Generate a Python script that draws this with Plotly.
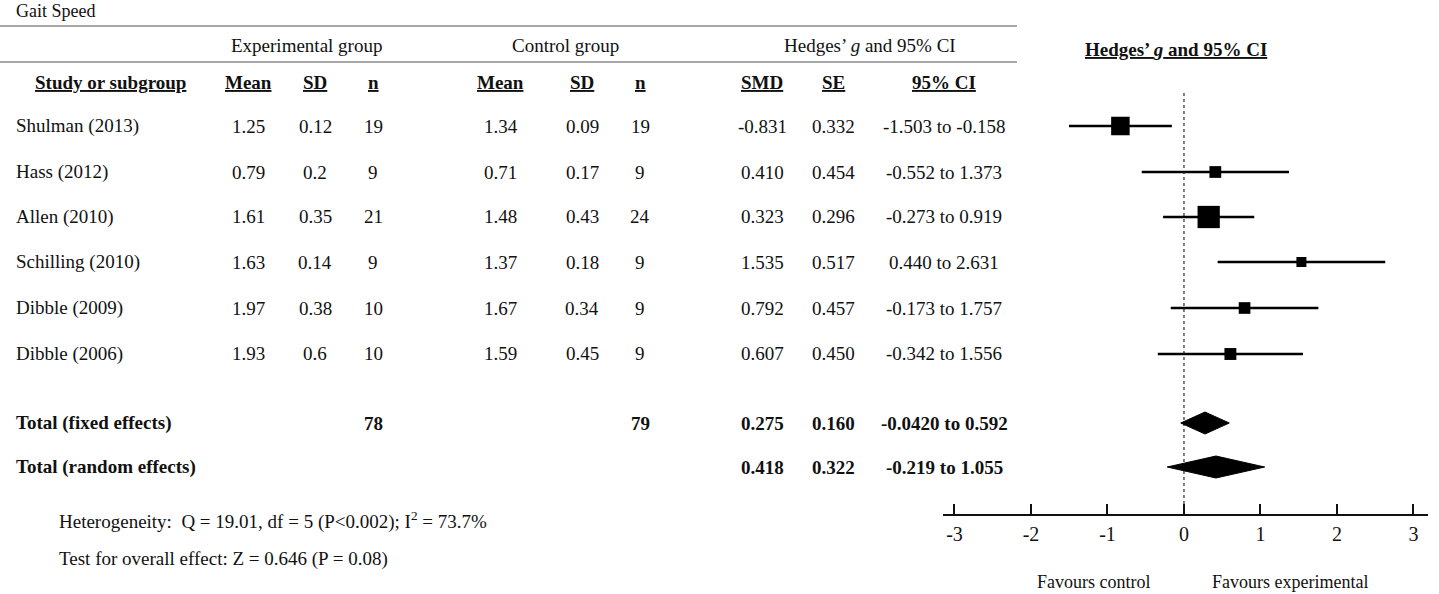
import plotly.graph_objects as go

studies = ["Shulman (2013)", "Hass (2012)", "Allen (2010)", "Schilling (2010)",
           "Dibble (2009)", "Dibble (2006)"]
exp_mean = [1.25, 0.79, 1.61, 1.63, 1.97, 1.93]
exp_sd = [0.12, 0.2, 0.35, 0.14, 0.38, 0.6]
exp_n = [19, 9, 21, 9, 10, 10]
ctrl_mean = [1.34, 0.71, 1.48, 1.37, 1.67, 1.59]
ctrl_sd = [0.09, 0.17, 0.43, 0.18, 0.34, 0.45]
ctrl_n = [19, 9, 24, 9, 9, 9]
smd = [-0.831, 0.410, 0.323, 1.535, 0.792, 0.607]
se = [0.332, 0.454, 0.296, 0.517, 0.457, 0.450]
ci_lo = [-1.503, -0.552, -0.273, 0.440, -0.173, -0.342]
ci_hi = [-0.158, 1.373, 0.919, 2.631, 1.757, 1.556]

# pooled rows
totals = ["Total (fixed effects)", "Total (random effects)"]
total_n_exp = ["78", ""]
total_n_ctrl = ["79", ""]
total_smd = [0.275, 0.418]
total_se = [0.160, 0.322]
total_lo = [-0.0420, -0.219]
total_lo_dec = [4, 3]
total_hi = [0.592, 1.055]

x_ticks = [-3, -2, -1, 0, 1, 2, 3]

heterogeneity = "Heterogeneity:  Q = 19.01, df = 5 (P&lt;0.002); I<sup>2</sup> = 73.7%"
overall = "Test for overall effect: Z = 0.646 (P = 0.08)"

# page geometry (pixels)
W, H = 1439, 594
FONT = "Liberation Serif"
INK = "#111111"
row_y = [126, 172, 217, 262, 308, 354]
total_y = [423, 467]
axis_y = 514


def px(x):
    return x / W


def py(y):
    return 1 - y / H


annotations = []


def add_text(x, y, text, anchor="center", size=19):
    annotations.append(dict(
        x=px(x), y=py(y), xref="paper", yref="paper", text=text,
        xanchor=anchor, yanchor="middle", showarrow=False,
        font=dict(family=FONT, size=size, color=INK)))


# table header
add_text(14, 11, "Gait Speed", anchor="left", size=18)
add_text(306, 45, "Experimental group")
add_text(565, 45, "Control group")
add_text(870, 45, "Hedges’ <i>g</i> and 95% CI")

col_x = [249, 315, 373, 501, 582, 640, 762, 833, 944]
col_heads = ["Mean", "SD", "n", "Mean", "SD", "n", "SMD", "SE", "95% CI"]
add_text(33, 82, "<b><u>Study or subgroup</u></b>", anchor="left")
for cx, head in zip(col_x, col_heads):
    add_text(cx, 82, f"<b><u>{head}</u></b>")

# study rows
for i, name in enumerate(studies):
    y = row_y[i]
    add_text(14, y, name, anchor="left")
    cells = [str(exp_mean[i]), str(exp_sd[i]), str(exp_n[i]),
             str(ctrl_mean[i]), str(ctrl_sd[i]), str(ctrl_n[i]),
             f"{smd[i]:.3f}", f"{se[i]:.3f}",
             f"{ci_lo[i]:.3f} to {ci_hi[i]:.3f}"]
    for cx, c in zip(col_x, cells):
        add_text(cx, y, c)

# pooled rows
for i, name in enumerate(totals):
    y = total_y[i]
    add_text(14, y, f"<b>{name}</b>", anchor="left")
    if total_n_exp[i]:
        add_text(col_x[2], y, f"<b>{total_n_exp[i]}</b>")
    if total_n_ctrl[i]:
        add_text(col_x[5], y, f"<b>{total_n_ctrl[i]}</b>")
    add_text(col_x[6], y, f"<b>{total_smd[i]:.3f}</b>")
    add_text(col_x[7], y, f"<b>{total_se[i]:.3f}</b>")
    d = total_lo_dec[i]
    add_text(col_x[8], y, f"<b>{total_lo[i]:.{d}f} to {total_hi[i]:.3f}</b>")

add_text(57, 520, heterogeneity, anchor="left")
add_text(57, 559, overall, anchor="left")

# forest panel texts
add_text(1176, 50, "<b><u>Hedges’ <i>g</i> and 95% CI</u></b>")
add_text(1093, 582, "Favours control", size=18)
add_text(1290, 582, "Favours experimental", size=18)

fig = go.Figure()

# confidence interval whiskers
wx, wy = [], []
for lo, hi, y in zip(ci_lo, ci_hi, row_y):
    wx += [lo, hi, None]
    wy += [y, y, None]
fig.add_trace(go.Scatter(x=wx, y=wy, mode="lines",
                         line=dict(color="black", width=2.5),
                         hoverinfo="skip"))

# study weight squares
sizes = [4 + 1.6 / s ** 2 for s in se]
fig.add_trace(go.Scatter(x=smd, y=row_y, mode="markers",
                         marker=dict(symbol="square", size=sizes, color="black",
                                     opacity=1, line=dict(width=0)),
                         text=studies))

# pooled diamonds
half_h = 11
for est, lo, hi, y in zip(total_smd, total_lo, total_hi, total_y):
    fig.add_trace(go.Scatter(
        x=[lo, est, hi, est, lo], y=[y, y - half_h, y, y + half_h, y],
        mode="lines", fill="toself", fillcolor="black",
        line=dict(color="black", width=1), hoverinfo="skip"))

shapes = [
    dict(type="line", xref="paper", yref="paper", x0=0, x1=px(1017),
         y0=py(26), y1=py(26), line=dict(color="#a8a8a8", width=2)),
    dict(type="line", xref="paper", yref="paper", x0=0, x1=px(1017),
         y0=py(62), y1=py(62), line=dict(color="#a8a8a8", width=2)),
    dict(type="line", xref="x", yref="y", x0=0, x1=0, y0=93, y1=axis_y,
         line=dict(color="#555555", width=1.5, dash="dot"), layer="below"),
]

fig.update_layout(
    width=W, height=H,
    margin=dict(l=0, r=0, t=0, b=0),
    paper_bgcolor="white", plot_bgcolor="white",
    showlegend=False,
    annotations=annotations,
    shapes=shapes,
    xaxis=dict(domain=[px(943), px(1428)], range=[-3.15, 3.19],
               tickvals=x_ticks, ticktext=[str(t) for t in x_ticks],
               ticks="inside", ticklen=10, tickwidth=2, tickcolor=INK,
               showline=True, linewidth=2, linecolor=INK,
               showgrid=False, zeroline=False, ticklabelstandoff=1,
               tickfont=dict(family=FONT, size=20, color=INK)),
    yaxis=dict(domain=[py(axis_y), 1], range=[axis_y, 0], visible=False),
)

fig.write_html("out.html", config={"displayModeBar": False},
               post_script="document.body.style.margin='0';")
